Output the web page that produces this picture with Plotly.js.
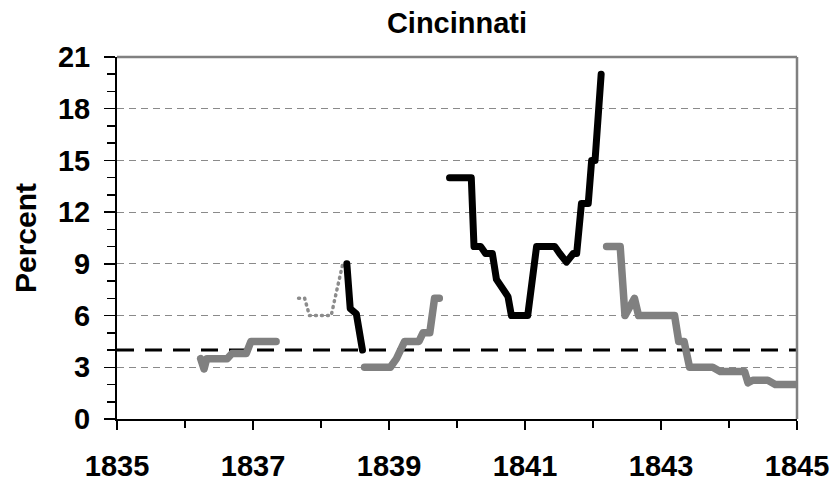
<!DOCTYPE html>
<html>
<head>
<meta charset="utf-8">
<script src="https://cdn.plot.ly/plotly-3.0.1.min.js"></script>
<style>
  html, body { margin: 0; padding: 0; background: #fff; }
  #chart { width: 838px; height: 482px; }
</style>
</head>
<body>
<div id="chart"></div>
<script>
// Gray series (segments separated by null)
var grayYears = [1836.23, 1836.28, 1836.32, 1836.62, 1836.69, 1836.90, 1836.97, 1837.34, null,
                 1838.64, 1839.02, 1839.11, 1839.23, 1839.44, 1839.50, 1839.60, 1839.67, 1839.74, null,
                 1842.20, 1842.40, 1842.47, 1842.61, 1842.67, 1843.20, 1843.26, 1843.34, 1843.42, 1843.76, 1843.87, 1844.23, 1844.28, 1844.35, 1844.57, 1844.68, 1845.00];
var grayRates = [3.5, 2.9, 3.5, 3.5, 3.8, 3.8, 4.5, 4.5, null,
                 3.0, 3.0, 3.5, 4.5, 4.5, 5.0, 5.0, 7.0, 7.0, null,
                 10.0, 10.0, 6.0, 7.0, 6.0, 6.0, 4.5, 4.5, 3.0, 3.0, 2.75, 2.75, 2.1, 2.25, 2.25, 2.0, 2.0];

// Gray dotted series
var dottedYears = [1837.67, 1837.76, 1837.83, 1838.15, 1838.20, 1838.27, 1838.32];
var dottedRates = [7.0, 7.0, 6.0, 6.0, 6.9, 8.1, 9.0];

// Black series (segments separated by null)
var blackYears = [1838.38, 1838.43, 1838.52, 1838.61, null,
                  1839.89, 1840.21, 1840.25, 1840.35, 1840.42, 1840.52, 1840.58, 1840.65, 1840.75, 1840.80, 1841.04, 1841.17, 1841.44, 1841.51, 1841.61, 1841.71, 1841.76, 1841.83, 1841.93, 1841.98, 1842.03, 1842.12];
var blackRates = [9.0, 6.4, 6.1, 4.0, null,
                  14.0, 14.0, 10.0, 10.0, 9.6, 9.6, 8.1, 7.7, 7.1, 6.0, 6.0, 10.0, 10.0, 9.6, 9.1, 9.6, 9.6, 12.5, 12.5, 15.0, 15.0, 20.0];

// Reference level
var refYears = [1835, 1845];
var refRates = [4, 4];

var xTickVals = [1835, 1837, 1839, 1841, 1843, 1845];
var xTickText = ['1835', '1837', '1839', '1841', '1843', '1845'];
var yTickVals = [0, 3, 6, 9, 12, 15, 18, 21];
var yTickText = ['0', '3', '6', '9', '12', '15', '18', '21'];

var FONT = 'Arial, "Liberation Sans", sans-serif';

var traces = [
  { x: refYears, y: refRates, mode: 'lines', line: { color: '#000', width: 3, dash: '17px,11px' }, hoverinfo: 'skip', showlegend: false },
  { x: dottedYears, y: dottedRates, mode: 'lines', line: { color: '#8c8c8c', width: 3.5, dash: '1px,5px' }, showlegend: false },
  { x: grayYears, y: grayRates, mode: 'lines', connectgaps: false, line: { color: '#808080', width: 7.5 }, showlegend: false },
  { x: blackYears, y: blackRates, mode: 'lines', connectgaps: false, line: { color: '#000', width: 7 }, showlegend: false }
];

var layout = {
  width: 838, height: 482,
  margin: { l: 117, r: 41, t: 57, b: 63, pad: 0 },
  paper_bgcolor: '#fff', plot_bgcolor: '#fff',
  showlegend: false,
  title: { text: 'Cincinnati', font: { family: FONT, size: 29, color: '#000', weight: 'bold' }, x: 0.5, xref: 'paper', y: 0.952, yref: 'container', yanchor: 'middle' },
  xaxis: {
    range: [1835, 1845], tickmode: 'array', tickvals: xTickVals, ticktext: xTickText,
    ticks: 'outside', ticklen: 9, tickwidth: 1.5, tickcolor: '#000',
    minor: { dtick: 1, tick0: 1835, ticks: 'outside', ticklen: 7, tickwidth: 1.5, tickcolor: '#000', showgrid: false },
    showline: true, linecolor: '#000', linewidth: 2, showgrid: false, zeroline: false,
    tickfont: { family: FONT, size: 29, color: '#000', weight: 'bold' },
    ticklabelstandoff: 11
  },
  yaxis: {
    range: [0, 21], tickmode: 'array', tickvals: yTickVals, ticktext: yTickText,
    ticks: 'outside', ticklen: 11, tickwidth: 1.5, tickcolor: '#000',
    minor: { dtick: 1, tick0: 0, ticks: 'outside', ticklen: 8, tickwidth: 1.5, tickcolor: '#000', showgrid: false },
    showline: true, linecolor: '#000', linewidth: 2,
    showgrid: true, gridcolor: '#8a8a8a', gridwidth: 1, griddash: '7px,5px', zeroline: false,
    tickfont: { family: FONT, size: 29, color: '#000', weight: 'bold' },
    ticklabelstandoff: 8,
    title: { text: 'Percent', font: { family: FONT, size: 30, color: '#000', weight: 'bold' }, standoff: 12 }
  },
  shapes: [
    { type: 'line', xref: 'paper', yref: 'paper', x0: 0, x1: 1, y0: 1, y1: 1, line: { color: '#808080', width: 2.5 }, layer: 'above' },
    { type: 'line', xref: 'paper', yref: 'paper', x0: 1, x1: 1, y0: 0, y1: 1, line: { color: '#808080', width: 2.5 }, layer: 'above' }
  ]
};

Plotly.newPlot('chart', traces, layout, { displayModeBar: false, staticPlot: true }).then(function (gd) {
  var groups = gd.querySelectorAll('.scatterlayer g.trace');
  groups.forEach(function (g, i) {
    if (i === 0) return;
    g.querySelectorAll('path.js-line').forEach(function (p) {
      p.style.strokeLinecap = 'round';
      p.style.strokeLinejoin = 'round';
    });
  });
});
</script>
</body>
</html>
